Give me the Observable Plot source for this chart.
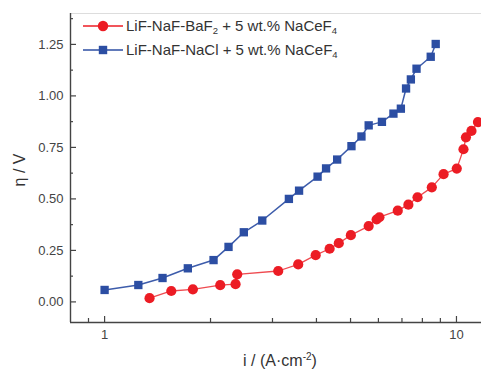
<!DOCTYPE html>
<html>
<head>
<meta charset="utf-8">
<script src="https://cdn.jsdelivr.net/npm/d3@7"></script>
<script src="https://cdn.jsdelivr.net/npm/@observablehq/plot@0.6"></script>
<style>
  html, body { margin: 0; padding: 0; background: #fff; }
  #wrap { position: relative; width: 481px; height: 369px; font-family: "Liberation Sans", Arial, sans-serif; color: #333; }
  .lg { position: absolute; font-size: 15px; line-height: 16px; white-space: nowrap; }
  .lg sub { font-size: 9.5px; vertical-align: -3px; line-height: 0; }
  .xl { position: absolute; font-size: 16px; line-height: 18px; white-space: nowrap; width: 200px; text-align: center; }
  .xl sup { font-size: 10px; vertical-align: 6px; line-height: 0; }
  .yl { position: absolute; font-size: 16px; line-height: 18px; white-space: nowrap; width: 80px; height: 18px; text-align: center; transform: rotate(-90deg); transform-origin: center; }
</style>
</head>
<body>
<div id="wrap"></div>
<script>
// ---- data ----
const naclX = [1.0, 1.247, 1.461, 1.724, 2.04, 2.25, 2.487, 2.806, 3.34, 3.57, 4.03, 4.26, 4.58, 5.03, 5.37, 5.63, 6.14, 6.62, 6.95, 7.19, 7.42, 7.70, 8.45, 8.73];
const naclY = [0.058, 0.082, 0.116, 0.163, 0.203, 0.267, 0.338, 0.395, 0.500, 0.540, 0.608, 0.648, 0.691, 0.756, 0.803, 0.857, 0.874, 0.914, 0.938, 1.036, 1.080, 1.132, 1.190, 1.252];
const bafX = [1.342, 1.547, 1.782, 2.131, 2.356, 2.382, 3.115, 3.55, 3.98, 4.36, 4.63, 5.01, 5.63, 5.93, 6.04, 6.81, 7.30, 7.75, 8.51, 9.19, 10.02, 10.47, 10.64, 11.03, 11.51];
const bafY = [0.018, 0.053, 0.061, 0.081, 0.086, 0.134, 0.150, 0.182, 0.227, 0.258, 0.285, 0.324, 0.368, 0.400, 0.411, 0.443, 0.472, 0.508, 0.556, 0.620, 0.647, 0.741, 0.799, 0.830, 0.873];
const xMajor = [1, 10];
const xMinor = [0.9, 2, 3, 4, 5, 6, 7, 8, 9];
const yMajor = [0, 0.25, 0.5, 0.75, 1.0, 1.25];
const yMinor = [0.125, 0.375, 0.625, 0.875, 1.125, 1.375];
const xDomain = [0.8, 11.78];
const yDomain = [-0.1, 1.4];

const RED = "#ec1c24", BLUE = "#2c4ea3", AX = "#444";
const W = 481, H = 369, ML = 70, MR = 0, MT = 13, MB = 47;
const innerW = W - ML - MR, innerH = H - MT - MB;

const nacl = naclX.map((x, i) => ({x, y: naclY[i]}));
const baf = bafX.map((x, i) => ({x, y: bafY[i]}));

const chart = Plot.plot({
  width: W, height: H,
  marginLeft: ML, marginRight: MR, marginTop: MT, marginBottom: MB,
  style: {fontFamily: "'Liberation Sans', Arial, sans-serif", fontSize: "13px", color: AX, background: "#fff"},
  x: {type: "log", domain: xDomain},
  y: {domain: yDomain},
  marks: [
    Plot.ruleY([yDomain[1]], {stroke: "#ddd", strokeWidth: 1}),
    Plot.axisY({ticks: yMajor, tickSize: 0, tickPadding: 7, tickFormat: d3.format(".2f"), label: null, fill: "#444", fontSize: 13}),
    Plot.axisX({ticks: xMajor, tickSize: 0, tickPadding: 7, tickFormat: d => String(d), label: null, fill: "#444", fontSize: 13}),
    Plot.ruleY(yMajor, {stroke: AX, strokeWidth: 1.2, insetRight: innerW - 6}),
    Plot.ruleY(yMinor, {stroke: AX, strokeWidth: 1.2, insetRight: innerW - 3}),
    Plot.ruleX(xMajor, {stroke: AX, strokeWidth: 1.2, insetTop: innerH - 6}),
    Plot.ruleX(xMinor, {stroke: AX, strokeWidth: 1.2, insetTop: innerH - 4}),
    Plot.ruleX([xDomain[0]], {stroke: AX, strokeWidth: 1.4}),
    Plot.ruleY([yDomain[0]], {stroke: AX, strokeWidth: 1.4}),
    Plot.line(nacl, {x: "x", y: "y", stroke: "#3d5cab", strokeWidth: 1.5}),
    Plot.dot(nacl, {x: "x", y: "y", symbol: "square", r: 4.7, fill: BLUE, stroke: "none"}),
    Plot.line(baf, {x: "x", y: "y", stroke: "#ef4a50", strokeWidth: 1.3}),
    Plot.dot(baf, {x: "x", y: "y", symbol: "circle", r: 5.1, fill: RED, stroke: "none"})
  ]
});
const wrap = document.getElementById("wrap");
wrap.appendChild(chart);

function swatch(color, shape, top) {
  const s = document.createElementNS("http://www.w3.org/2000/svg", "svg");
  s.setAttribute("width", 40); s.setAttribute("height", 12);
  s.style.position = "absolute"; s.style.left = "83px"; s.style.top = (top - 6) + "px";
  s.innerHTML = `<line x1="0" x2="40" y1="6" y2="6" stroke="${color}" stroke-width="1.4"/>` +
    (shape === "circle" ? `<circle cx="20" cy="6" r="5.2" fill="${color}"/>` : `<rect x="15.8" y="1.8" width="8.4" height="8.4" fill="${color}"/>`);
  wrap.appendChild(s);
}
swatch(RED, "circle", 26);
swatch(BLUE, "square", 50);

const l1 = document.createElement("div"); l1.className = "lg"; l1.style.left = "126px"; l1.style.top = "18px";
l1.innerHTML = "LiF-NaF-BaF<sub>2</sub> + 5 wt.% NaCeF<sub>4</sub>"; wrap.appendChild(l1);
const l2 = document.createElement("div"); l2.className = "lg"; l2.style.left = "126px"; l2.style.top = "42px";
l2.innerHTML = "LiF-NaF-NaCl + 5 wt.% NaCeF<sub>4</sub>"; wrap.appendChild(l2);

const xl = document.createElement("div"); xl.className = "xl"; xl.style.left = "180px"; xl.style.top = "352px";
xl.innerHTML = "i / (A·cm<sup>-2</sup>)"; wrap.appendChild(xl);
const yl = document.createElement("div"); yl.className = "yl"; yl.style.left = "-20px"; yl.style.top = "161px";
yl.innerHTML = "η / V"; wrap.appendChild(yl);
</script>
</body>
</html>
